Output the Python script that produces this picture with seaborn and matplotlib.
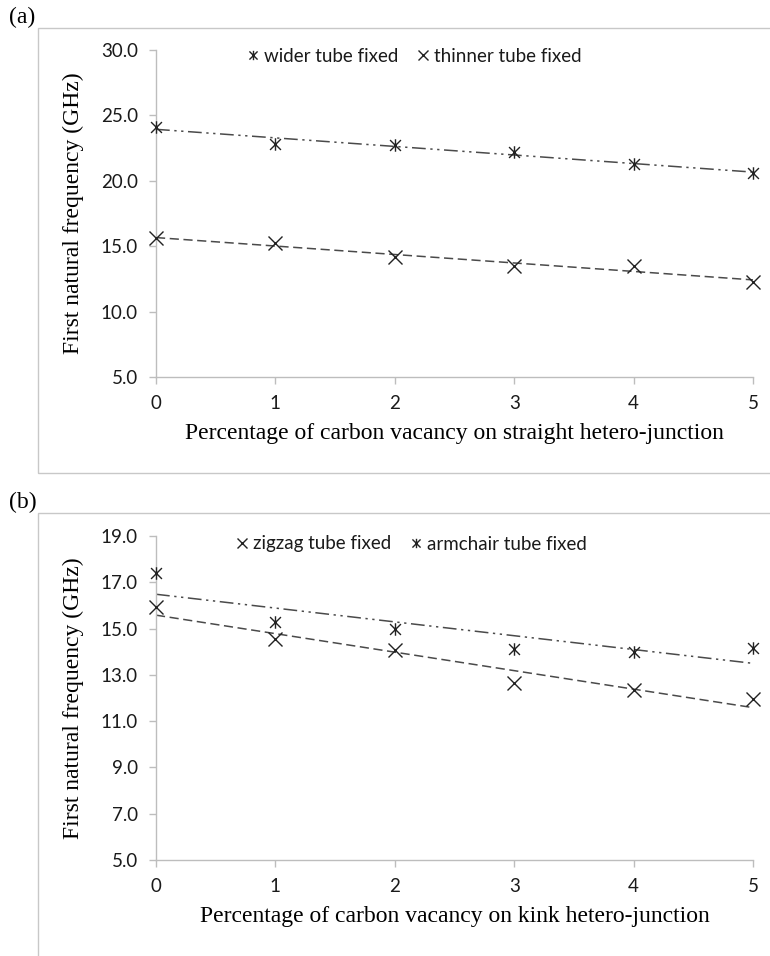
import numpy as np
import pandas as pd
import matplotlib
matplotlib.use("Agg")
import matplotlib.pyplot as plt
import seaborn as sns
from matplotlib.path import Path
from matplotlib.patches import Rectangle

# ---------------- data ----------------
vacancy = [0, 1, 2, 3, 4, 5]

# (a) straight hetero-junction
wider_fixed = [24.15, 22.85, 22.7, 22.2, 21.3, 20.6]
thinner_fixed = [15.6, 15.25, 14.2, 13.45, 13.45, 12.3]

# (b) kink hetero-junction
zigzag_fixed = [15.93, 14.55, 14.07, 12.65, 12.35, 11.94]
armchair_fixed = [17.38, 15.3, 15.0, 14.1, 14.0, 14.16]

yticks_a = [5.0, 10.0, 15.0, 20.0, 25.0, 30.0]
yticks_b = [5.0, 7.0, 9.0, 11.0, 13.0, 15.0, 17.0, 19.0]

xlabel_a = "Percentage of carbon vacancy on straight hetero-junction"
xlabel_b = "Percentage of carbon vacancy on kink hetero-junction"
ylabel = "First natural frequency (GHz)"

# ---------------- style ----------------
sns.set_theme(style="white")
plt.rcParams["font.family"] = ["Lato", "DejaVu Sans"]

star = Path([(-1, -1), (1, 1), (-1, 1), (1, -1), (0, -1.15), (0, 1.15)],
            [Path.MOVETO, Path.LINETO, Path.MOVETO, Path.LINETO, Path.MOVETO, Path.LINETO])

W, H = 770, 956
fig = plt.figure(figsize=(W / 100, H / 100), dpi=100)

def fx(px):
    return px / W

def fy(py):
    return 1 - py / H

grey = "#bdbdbd"
serif = ["Liberation Serif", "DejaVu Serif"]

# outer frames
fig.patches.append(Rectangle((fx(38), fy(473)), fx(800) - fx(38), fy(28) - fy(473),
                             transform=fig.transFigure, fill=False, edgecolor="#c8c8c8", lw=1))
fig.patches.append(Rectangle((fx(38), fy(990)), fx(800) - fx(38), fy(513) - fy(990),
                             transform=fig.transFigure, fill=False, edgecolor="#c8c8c8", lw=1))
fig.text(fx(9), fy(17), "(a)", family=serif, fontsize=17, va="center", ha="left", color="black")
fig.text(fx(9), fy(502), "(b)", family=serif, fontsize=17, va="center", ha="left", color="black")

ax_a = fig.add_axes([fx(156), fy(377), fx(753) - fx(156), fy(50) - fy(377)])
ax_b = fig.add_axes([fx(156), fy(860), fx(753) - fx(156), fy(536) - fy(860)])

dashdotdot = (0, (9, 3, 1.5, 3, 1.5, 3))
dashed = (0, (6, 3))
line_color = "#4a4a4a"

def draw_panel(ax, ys, labels, markers, styles, yticks, ylim, xlabel, leg_x, leg_y):
    for y, lab, mk, ls in zip(ys, labels, markers, styles):
        df = pd.DataFrame({"x": vacancy, "y": y})
        sns.regplot(data=df, x="x", y="y", ax=ax, scatter=False, ci=None, truncate=True,
                    line_kws=dict(color=line_color, lw=1.1, linestyle=ls))
        msize = 9 if mk is star else 10
        sns.lineplot(data=df, x="x", y="y", ax=ax, linestyle="", marker=mk, color="black",
                     markersize=msize, markeredgecolor="#222222", markerfacecolor="none",
                     markeredgewidth=1.0, label=lab, clip_on=False, zorder=5)
    ax.set_xlim(0, 5)
    ax.set_ylim(*ylim)
    ax.set_xticks(vacancy)
    ax.set_xticklabels([str(v) for v in vacancy])
    ax.set_yticks(yticks)
    ax.set_yticklabels([f"{t:.1f}" for t in yticks])
    for s in ["top", "right"]:
        ax.spines[s].set_visible(False)
    for s in ["left", "bottom"]:
        ax.spines[s].set_color(grey)
        ax.spines[s].set_linewidth(1.0)
    ax.tick_params(axis="both", which="major", direction="out", length=5, width=1,
                   color=grey, labelsize=13.5, labelcolor="#1a1a1a", pad=8, bottom=True, left=True)
    ax.set_xlabel(xlabel, family=serif, fontsize=17, color="black", labelpad=8)
    ax.set_ylabel(ylabel, family=serif, fontsize=17, color="black", labelpad=12)
    ax.grid(False)
    leg = ax.legend(loc="center left", bbox_to_anchor=(fx(leg_x), fy(leg_y)),
                    bbox_transform=fig.transFigure, ncol=2, frameon=False, fontsize=13.5,
                    handlelength=0.6, handletextpad=0.3, columnspacing=1.0, borderpad=0,
                    markerscale=0.75)
    for t in leg.get_texts():
        t.set_color("#1a1a1a")

draw_panel(ax_a, [wider_fixed, thinner_fixed], ["wider tube fixed", "thinner tube fixed"],
           [star, "x"], [dashdotdot, dashed], yticks_a, (5, 30), xlabel_a, 238, 56)
draw_panel(ax_b, [zigzag_fixed, armchair_fixed], ["zigzag tube fixed", "armchair tube fixed"],
           ["x", star], [dashed, dashdotdot], yticks_b, (5, 19), xlabel_b, 227, 544)

fig.savefig("out.png", dpi=100)
